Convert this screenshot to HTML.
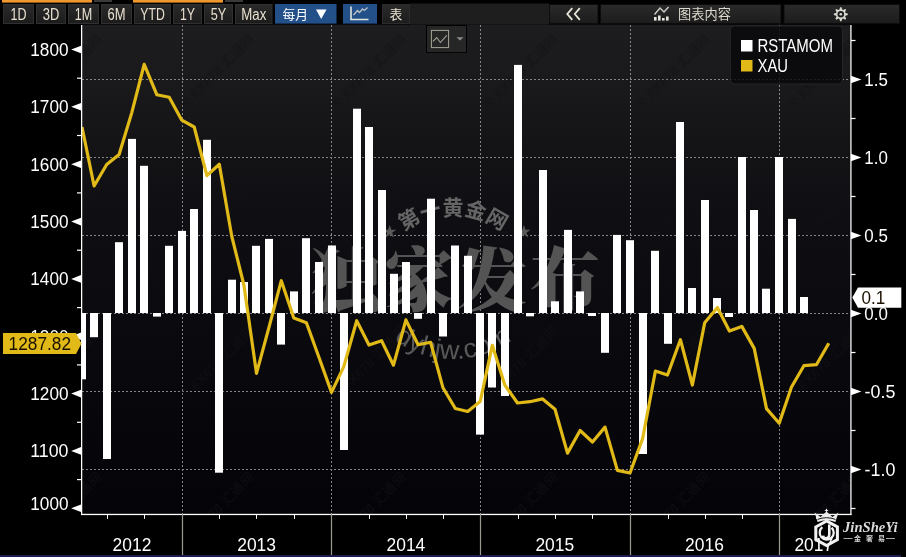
<!DOCTYPE html>
<html><head><meta charset="utf-8"><title>chart</title>
<style>
html,body{margin:0;padding:0;background:#000;}
body{width:906px;height:557px;overflow:hidden;}
svg{display:block}
text{font-family:"Liberation Sans","Noto Sans CJK SC",sans-serif;}
.ax{fill:#fff;font-size:17.8px;}
.btn{fill:#e9e0d0;font-size:15.6px;}
.wm1{font-family:"Liberation Serif","Noto Serif CJK SC",serif;font-weight:900;fill:#545454;}
.wm2{font-weight:700;fill:#656565;}
.wm3{fill:#585858;}
.fx text{font-weight:700;fill:#141418;fill-opacity:0.5;}
.logo{font-family:"Liberation Serif",serif;font-style:italic;font-weight:700;}
</style></head><body>
<svg width="906" height="557" viewBox="0 0 906 557">
<defs>
<linearGradient id="pg" x1="0" y1="0" x2="0" y2="1"><stop offset="0" stop-color="#1d1d20"/><stop offset="0.13" stop-color="#19191c"/><stop offset="0.245" stop-color="#141417"/><stop offset="0.36" stop-color="#101014"/><stop offset="0.59" stop-color="#0b0b0f"/><stop offset="0.77" stop-color="#08080c"/><stop offset="1" stop-color="#040408"/></linearGradient>
<linearGradient id="bg" x1="0" y1="0" x2="0" y2="1"><stop offset="0" stop-color="#2a2a2a"/><stop offset="1" stop-color="#1c1c1c"/></linearGradient>
<clipPath id="pc"><rect x="82" y="25" width="769" height="489"/></clipPath>
</defs>
<rect x="0" y="0" width="906" height="557" fill="#000"/>

<rect x="2" y="0" width="90" height="2.6" fill="#f0982e"/><rect x="94" y="0" width="18" height="2" fill="#3a3a3a"/>
<rect x="133" y="0" width="90" height="2.6" fill="#f0982e"/><rect x="225" y="0" width="18" height="2" fill="#3a3a3a"/>
<rect x="410" y="3.5" width="139" height="21" fill="#1e1e1e"/>
<rect x="3.5" y="4.5" width="30" height="19" fill="url(#bg)" stroke="#303030" stroke-width="1"/>
<text class="btn" x="18.5" y="19.9" text-anchor="middle" textLength="16" lengthAdjust="spacingAndGlyphs">1D</text>
<rect x="36.5" y="4.5" width="29" height="19" fill="url(#bg)" stroke="#303030" stroke-width="1"/>
<text class="btn" x="51.0" y="19.9" text-anchor="middle" textLength="16.5" lengthAdjust="spacingAndGlyphs">3D</text>
<rect x="68.5" y="4.5" width="30" height="19" fill="url(#bg)" stroke="#303030" stroke-width="1"/>
<text class="btn" x="83.5" y="19.9" text-anchor="middle" textLength="17.5" lengthAdjust="spacingAndGlyphs">1M</text>
<rect x="101.5" y="4.5" width="30" height="19" fill="url(#bg)" stroke="#303030" stroke-width="1"/>
<text class="btn" x="116.5" y="19.9" text-anchor="middle" textLength="18" lengthAdjust="spacingAndGlyphs">6M</text>
<rect x="134.5" y="4.5" width="36" height="19" fill="url(#bg)" stroke="#303030" stroke-width="1"/>
<text class="btn" x="152.5" y="19.9" text-anchor="middle" textLength="24.5" lengthAdjust="spacingAndGlyphs">YTD</text>
<rect x="173.5" y="4.5" width="28" height="19" fill="url(#bg)" stroke="#303030" stroke-width="1"/>
<text class="btn" x="187.5" y="19.9" text-anchor="middle" textLength="15" lengthAdjust="spacingAndGlyphs">1Y</text>
<rect x="204.5" y="4.5" width="28" height="19" fill="url(#bg)" stroke="#303030" stroke-width="1"/>
<text class="btn" x="218.5" y="19.9" text-anchor="middle" textLength="15.5" lengthAdjust="spacingAndGlyphs">5Y</text>
<rect x="235.5" y="4.5" width="36.5" height="19" fill="url(#bg)" stroke="#303030" stroke-width="1"/>
<text class="btn" x="253.75" y="19.9" text-anchor="middle" textLength="25" lengthAdjust="spacingAndGlyphs">Max</text>
<rect x="275" y="4" width="61.5" height="19.6" fill="#24508a"/>
<text x="282.5" y="18.6" font-size="12.8" fill="#fff">每月</text>
<path d="M316 9.5 L326.5 9.5 L321.2 19 Z" fill="#fff"/>
<rect x="343" y="4" width="34" height="19.6" fill="#24508a"/>
<path d="M351 6.5 V19.5 H368.5" fill="none" stroke="#dfe4dc" stroke-width="1.6"/><path d="M353.5 15 L357.5 10.5 L359.5 12.5 L362.5 9 L364.5 10.5 L367.5 7.5" fill="none" stroke="#b9c1c4" stroke-width="1.3"/>
<rect x="382.5" y="4.5" width="27" height="19" fill="url(#bg)" stroke="#2c2c2c"/>
<text x="396" y="18.6" font-size="12.8" fill="#e9e0d0" text-anchor="middle">表</text>
<rect x="549.5" y="4.5" width="48.5" height="19" fill="url(#bg)" stroke="#0c0c0c" stroke-width="1"/>
<rect x="600.5" y="4.5" width="180.5" height="19" fill="url(#bg)" stroke="#0c0c0c" stroke-width="1"/>
<rect x="784.0" y="4.5" width="115.5" height="19" fill="url(#bg)" stroke="#0c0c0c" stroke-width="1"/>
<path d="M572.3 8.2 L567.3 14 L572.3 19.8 M579.8 8.2 L574.8 14 L579.8 19.8" fill="none" stroke="#e8e6da" stroke-width="1.8"/>
<path d="M654.5 14.5 L660 8 L664 12 L668.5 7" fill="none" stroke="#cfcfc8" stroke-width="1.4"/>
<rect x="654" y="17" width="2.6" height="3.6" fill="#e6e6de"/><rect x="658" y="15.5" width="2.6" height="5.1" fill="#e6e6de"/><rect x="662" y="18" width="2.6" height="2.6" fill="#e6e6de"/><rect x="666" y="16.5" width="2.6" height="4.1" fill="#e6e6de"/>
<text x="678" y="18.5" font-size="13.2" fill="#dcd8cc" textLength="53" lengthAdjust="spacing">图表内容</text>
<path d="M847.77 13.61 L847.77 14.99 L845.49 15.72 L845.12 16.61 L846.21 18.74 L845.24 19.71 L843.11 18.62 L842.22 18.99 L841.49 21.27 L840.11 21.27 L839.38 18.99 L838.49 18.62 L836.36 19.71 L835.39 18.74 L836.48 16.61 L836.11 15.72 L833.83 14.99 L833.83 13.61 L836.11 12.88 L836.48 11.99 L835.39 9.86 L836.36 8.89 L838.49 9.98 L839.38 9.61 L840.11 7.33 L841.49 7.33 L842.22 9.61 L843.11 9.98 L845.24 8.89 L846.21 9.86 L845.12 11.99 L845.49 12.88 Z" fill="#d8d8d0"/>
<circle cx="840.8" cy="14.3" r="3.3" fill="#1e1e1e"/><circle cx="840.8" cy="14.3" r="1.3" fill="#d8d8d0"/>
<rect x="82" y="24.7" width="769" height="489.3" fill="url(#pg)"/>
<line x1="82" x2="850" y1="79.5" y2="79.5" stroke="#858585" stroke-width="1" stroke-dasharray="2 2"/>
<line x1="82" x2="850" y1="157.5" y2="157.5" stroke="#858585" stroke-width="1" stroke-dasharray="2 2"/>
<line x1="82" x2="850" y1="235.5" y2="235.5" stroke="#858585" stroke-width="1" stroke-dasharray="2 2"/>
<line x1="82" x2="850" y1="313.5" y2="313.5" stroke="#858585" stroke-width="1" stroke-dasharray="2 2"/>
<line x1="82" x2="850" y1="391.5" y2="391.5" stroke="#858585" stroke-width="1" stroke-dasharray="2 2"/>
<line x1="82" x2="850" y1="469.5" y2="469.5" stroke="#858585" stroke-width="1" stroke-dasharray="2 2"/>
<line x1="182.5" x2="182.5" y1="25" y2="514" stroke="#858585" stroke-width="1" stroke-dasharray="2 2"/>
<line x1="331.5" x2="331.5" y1="25" y2="514" stroke="#858585" stroke-width="1" stroke-dasharray="2 2"/>
<line x1="480.5" x2="480.5" y1="25" y2="514" stroke="#858585" stroke-width="1" stroke-dasharray="2 2"/>
<line x1="630.5" x2="630.5" y1="25" y2="514" stroke="#858585" stroke-width="1" stroke-dasharray="2 2"/>
<line x1="779.5" x2="779.5" y1="25" y2="514" stroke="#858585" stroke-width="1" stroke-dasharray="2 2"/>
<rect x="426" y="25" width="41" height="27.8" fill="#000"/><rect x="427" y="26" width="39" height="26" fill="#262626"/>
<rect x="431.4" y="30.4" width="17.2" height="17.2" fill="none" stroke="#a8a59a" stroke-width="1"/>
<path d="M433 41.3 L436.7 37.5 L440.4 42.5 L446.8 35.4" fill="none" stroke="#a8a59a" stroke-width="1.1"/>
<path d="M456.4 37.2 L463.5 37.2 L460 40.4 Z" fill="#8c8c8c"/>
<g class="fx" clip-path="url(#pc)">
<text x="34" y="109" transform="rotate(-45 34 109)" font-size="13.5">© FX678 汇通网</text>
<text x="186" y="109" transform="rotate(-45 186 109)" font-size="13.5">© FX678 汇通网</text>
<text x="338" y="109" transform="rotate(-45 338 109)" font-size="13.5">© FX678 汇通网</text>
<text x="490" y="109" transform="rotate(-45 490 109)" font-size="13.5">© FX678 汇通网</text>
<text x="642" y="109" transform="rotate(-45 642 109)" font-size="13.5">© FX678 汇通网</text>
<text x="794" y="109" transform="rotate(-45 794 109)" font-size="13.5">© FX678 汇通网</text>
<text x="946" y="109" transform="rotate(-45 946 109)" font-size="13.5">© FX678 汇通网</text>
<text x="34" y="255" transform="rotate(-45 34 255)" font-size="13.5">© FX678 汇通网</text>
<text x="186" y="255" transform="rotate(-45 186 255)" font-size="13.5">© FX678 汇通网</text>
<text x="338" y="255" transform="rotate(-45 338 255)" font-size="13.5">© FX678 汇通网</text>
<text x="490" y="255" transform="rotate(-45 490 255)" font-size="13.5">© FX678 汇通网</text>
<text x="642" y="255" transform="rotate(-45 642 255)" font-size="13.5">© FX678 汇通网</text>
<text x="794" y="255" transform="rotate(-45 794 255)" font-size="13.5">© FX678 汇通网</text>
<text x="946" y="255" transform="rotate(-45 946 255)" font-size="13.5">© FX678 汇通网</text>
<text x="34" y="401" transform="rotate(-45 34 401)" font-size="13.5">© FX678 汇通网</text>
<text x="186" y="401" transform="rotate(-45 186 401)" font-size="13.5">© FX678 汇通网</text>
<text x="338" y="401" transform="rotate(-45 338 401)" font-size="13.5">© FX678 汇通网</text>
<text x="490" y="401" transform="rotate(-45 490 401)" font-size="13.5">© FX678 汇通网</text>
<text x="642" y="401" transform="rotate(-45 642 401)" font-size="13.5">© FX678 汇通网</text>
<text x="794" y="401" transform="rotate(-45 794 401)" font-size="13.5">© FX678 汇通网</text>
<text x="946" y="401" transform="rotate(-45 946 401)" font-size="13.5">© FX678 汇通网</text>
<text x="34" y="547" transform="rotate(-45 34 547)" font-size="13.5">© FX678 汇通网</text>
<text x="186" y="547" transform="rotate(-45 186 547)" font-size="13.5">© FX678 汇通网</text>
<text x="338" y="547" transform="rotate(-45 338 547)" font-size="13.5">© FX678 汇通网</text>
<text x="490" y="547" transform="rotate(-45 490 547)" font-size="13.5">© FX678 汇通网</text>
<text x="642" y="547" transform="rotate(-45 642 547)" font-size="13.5">© FX678 汇通网</text>
<text x="794" y="547" transform="rotate(-45 794 547)" font-size="13.5">© FX678 汇通网</text>
<text x="946" y="547" transform="rotate(-45 946 547)" font-size="13.5">© FX678 汇通网</text>
</g>
<text class="wm1" x="311" y="305.5" font-size="70" textLength="289" lengthAdjust="spacing">独家发布</text>
<path id="arc" d="M391.7 243.6 A80 80 0 0 1 514.3 243.6" fill="none"/><path id="arc2" d="M388.1 335.4 A101 101 0 0 0 517.9 335.4" fill="none"/>
<text class="wm2" font-size="21"><textPath href="#arc" startOffset="50%" text-anchor="middle">第一黄金网</textPath></text>
<text class="wm3" x="389.7" y="236" font-size="14" text-anchor="middle">★</text><text class="wm3" x="524" y="236" font-size="14" text-anchor="middle">★</text>
<text class="wm3" font-size="27"><textPath href="#arc2" startOffset="50%" text-anchor="middle">dyhjw.com</textPath></text>
<g clip-path="url(#pc)" fill="#fff">
<rect x="78.0" y="313.0" width="8" height="66.3"/>
<rect x="90.0" y="313.0" width="8" height="24.2"/>
<rect x="103.0" y="313.0" width="8" height="146.0"/>
<rect x="115.0" y="242.2" width="8" height="70.8"/>
<rect x="128.0" y="138.9" width="8" height="174.1"/>
<rect x="140.0" y="165.8" width="8" height="147.2"/>
<rect x="153.0" y="313.0" width="8" height="3.6"/>
<rect x="165.0" y="245.8" width="8" height="67.2"/>
<rect x="178.0" y="230.9" width="8" height="82.1"/>
<rect x="190.0" y="209.0" width="8" height="104.0"/>
<rect x="203.0" y="139.8" width="8" height="173.2"/>
<rect x="215.0" y="313.0" width="8" height="159.7"/>
<rect x="228.0" y="279.7" width="8" height="33.3"/>
<rect x="240.0" y="282.0" width="8" height="31.0"/>
<rect x="252.0" y="245.8" width="8" height="67.2"/>
<rect x="265.0" y="238.9" width="8" height="74.1"/>
<rect x="277.0" y="313.0" width="8" height="31.6"/>
<rect x="290.0" y="291.4" width="8" height="21.6"/>
<rect x="302.0" y="238.2" width="8" height="74.8"/>
<rect x="315.0" y="262.0" width="8" height="51.0"/>
<rect x="328.0" y="245.5" width="8" height="67.5"/>
<rect x="340.0" y="313.0" width="8" height="137.0"/>
<rect x="353.0" y="108.7" width="8" height="204.3"/>
<rect x="365.0" y="127.0" width="8" height="186.0"/>
<rect x="378.0" y="190.0" width="8" height="123.0"/>
<rect x="390.0" y="273.8" width="8" height="39.2"/>
<rect x="402.0" y="262.0" width="8" height="51.0"/>
<rect x="414.0" y="313.0" width="8" height="5.8"/>
<rect x="427.0" y="198.7" width="8" height="114.3"/>
<rect x="439.0" y="313.0" width="8" height="23.5"/>
<rect x="451.0" y="245.5" width="8" height="67.5"/>
<rect x="464.0" y="255.8" width="8" height="57.2"/>
<rect x="476.0" y="313.0" width="8" height="121.6"/>
<rect x="488.0" y="313.0" width="8" height="74.5"/>
<rect x="501.0" y="313.0" width="8" height="83.0"/>
<rect x="514.0" y="64.9" width="8" height="248.1"/>
<rect x="526.0" y="313.0" width="8" height="3.3"/>
<rect x="539.0" y="170.0" width="8" height="143.0"/>
<rect x="551.0" y="301.3" width="8" height="11.7"/>
<rect x="564.0" y="229.9" width="8" height="83.1"/>
<rect x="576.0" y="291.4" width="8" height="21.6"/>
<rect x="588.0" y="313.0" width="8" height="3.0"/>
<rect x="601.0" y="313.0" width="8" height="39.8"/>
<rect x="613.0" y="234.9" width="8" height="78.1"/>
<rect x="626.0" y="240.2" width="8" height="72.8"/>
<rect x="639.0" y="313.0" width="8" height="141.0"/>
<rect x="651.0" y="250.8" width="8" height="62.2"/>
<rect x="664.0" y="313.0" width="8" height="30.8"/>
<rect x="676.0" y="122.0" width="8" height="191.0"/>
<rect x="688.0" y="288.0" width="8" height="25.0"/>
<rect x="701.0" y="200.0" width="8" height="113.0"/>
<rect x="713.0" y="298.0" width="8" height="15.0"/>
<rect x="725.0" y="313.0" width="8" height="4.0"/>
<rect x="738.0" y="157.0" width="8" height="156.0"/>
<rect x="750.0" y="210.0" width="8" height="103.0"/>
<rect x="762.0" y="288.7" width="8" height="24.3"/>
<rect x="775.0" y="157.0" width="8" height="156.0"/>
<rect x="788.0" y="218.9" width="8" height="94.1"/>
<rect x="800.0" y="297.0" width="8" height="16.0"/>
</g>
<polyline clip-path="url(#pc)" points="82.0,127.0 94.1,186.0 106.7,164.5 119.1,154.5 131.8,112.6 144.2,64.3 156.9,94.8 169.2,97.3 181.8,120.2 194.2,127.0 206.9,175.6 219.3,164.3 231.7,236.0 243.9,285.0 256.5,373.3 269.1,326.8 281.3,280.7 293.8,318.0 306.4,322.7 319.2,358.0 331.5,392.4 343.8,366.6 356.7,320.7 369.0,345.0 381.6,340.7 393.5,365.2 405.9,319.9 418.1,344.7 430.6,342.3 443.0,387.8 455.3,408.5 467.7,411.5 480.2,401.5 492.3,345.3 504.8,385.0 517.5,403.0 529.9,401.7 542.6,398.9 555.0,409.2 567.5,453.1 580.1,430.5 592.5,442.0 605.0,427.1 617.4,470.4 630.0,473.0 642.6,438.6 655.4,371.0 667.5,375.0 680.4,339.7 692.4,385.0 704.7,322.8 717.4,307.5 729.4,331.0 741.8,326.4 754.2,348.4 766.5,408.6 779.2,423.2 791.5,387.0 803.9,365.7 816.4,364.7 828.8,343.3" fill="none" stroke="#e2ba18" stroke-width="3.2" stroke-linejoin="round" stroke-linecap="butt"/>
<rect x="730.3" y="26" width="112.2" height="58" rx="4" fill="#08080b" fill-opacity="0.82" stroke="#26262a" stroke-width="1"/>
<rect x="741" y="40" width="11.5" height="11.5" fill="#fff"/><rect x="741" y="60" width="11.5" height="11.5" fill="#e2ba18"/>
<text x="757.5" y="52" font-size="18" fill="#fff" textLength="75.5" lengthAdjust="spacingAndGlyphs">RSTAMOM</text>
<text x="757.5" y="72" font-size="18" fill="#fff" textLength="30.5" lengthAdjust="spacingAndGlyphs">XAU</text>
<rect x="81" y="25" width="1.25" height="490" fill="#fff"/>
<rect x="850.3" y="25" width="1.25" height="490" fill="#fff"/>
<rect x="81" y="513.8" width="770.5" height="1.3" fill="#fff"/>
<path d="M81 45.7 L71.2 49.5 L81 53.3 Z" fill="#fff"/>
<text class="ax" x="30.3" y="55.9" textLength="38.2" lengthAdjust="spacingAndGlyphs">1800</text>
<rect x="77" y="77.6" width="4" height="1.2" fill="#fff"/>
<path d="M81 103.0 L71.2 106.8 L81 110.6 Z" fill="#fff"/>
<text class="ax" x="30.3" y="113.2" textLength="38.2" lengthAdjust="spacingAndGlyphs">1700</text>
<rect x="77" y="134.9" width="4" height="1.2" fill="#fff"/>
<path d="M81 160.4 L71.2 164.2 L81 168.0 Z" fill="#fff"/>
<text class="ax" x="30.3" y="170.6" textLength="38.2" lengthAdjust="spacingAndGlyphs">1600</text>
<rect x="77" y="192.3" width="4" height="1.2" fill="#fff"/>
<path d="M81 217.8 L71.2 221.6 L81 225.4 Z" fill="#fff"/>
<text class="ax" x="30.3" y="228.0" textLength="38.2" lengthAdjust="spacingAndGlyphs">1500</text>
<rect x="77" y="249.6" width="4" height="1.2" fill="#fff"/>
<path d="M81 275.1 L71.2 278.9 L81 282.7 Z" fill="#fff"/>
<text class="ax" x="30.3" y="285.3" textLength="38.2" lengthAdjust="spacingAndGlyphs">1400</text>
<rect x="77" y="307.0" width="4" height="1.2" fill="#fff"/>
<path d="M81 332.4 L71.2 336.2 L81 340.1 Z" fill="#fff"/>
<text class="ax" x="30.3" y="342.6" textLength="38.2" lengthAdjust="spacingAndGlyphs">1300</text>
<rect x="77" y="364.3" width="4" height="1.2" fill="#fff"/>
<path d="M81 389.8 L71.2 393.6 L81 397.4 Z" fill="#fff"/>
<text class="ax" x="30.3" y="400.0" textLength="38.2" lengthAdjust="spacingAndGlyphs">1200</text>
<rect x="77" y="421.7" width="4" height="1.2" fill="#fff"/>
<path d="M81 447.1 L71.2 450.9 L81 454.8 Z" fill="#fff"/>
<text class="ax" x="30.3" y="457.3" textLength="38.2" lengthAdjust="spacingAndGlyphs">1100</text>
<rect x="77" y="479.0" width="4" height="1.2" fill="#fff"/>
<path d="M81 504.5 L71.2 508.3 L81 512.1 Z" fill="#fff"/>
<text class="ax" x="30.3" y="509.9" textLength="38.2" lengthAdjust="spacingAndGlyphs">1000</text>
<path d="M3 333 H76 L81.5 343.4 L76 354 H3 Z" fill="#e2ba18"/>
<text x="8.6" y="350" font-size="17.6" fill="#1a1000" textLength="62.5" lengthAdjust="spacingAndGlyphs">1287.82</text>
<path d="M851 75.7 L861.4 79.5 L851 83.3 Z" fill="#fff"/>
<text class="ax" x="864.3" y="85.8" font-size="17.5" textLength="23.5" lengthAdjust="spacingAndGlyphs">1.5</text>
<path d="M851 153.7 L861.4 157.5 L851 161.3 Z" fill="#fff"/>
<text class="ax" x="864.3" y="163.8" font-size="17.5" textLength="23.5" lengthAdjust="spacingAndGlyphs">1.0</text>
<path d="M851 231.7 L861.4 235.5 L851 239.3 Z" fill="#fff"/>
<text class="ax" x="864.3" y="241.8" font-size="17.5" textLength="23.5" lengthAdjust="spacingAndGlyphs">0.5</text>
<path d="M851 309.7 L861.4 313.5 L851 317.3 Z" fill="#fff"/>
<text class="ax" x="864.3" y="319.8" font-size="17.5" textLength="23.5" lengthAdjust="spacingAndGlyphs">0.0</text>
<path d="M851 387.7 L861.4 391.5 L851 395.3 Z" fill="#fff"/>
<text class="ax" x="864.6" y="397.8" font-size="17.5" textLength="30.8" lengthAdjust="spacingAndGlyphs">-0.5</text>
<path d="M851 465.7 L861.4 469.5 L851 473.3 Z" fill="#fff"/>
<text class="ax" x="864.6" y="475.8" font-size="17.5" textLength="30.8" lengthAdjust="spacingAndGlyphs">-1.0</text>
<rect x="851" y="39.9" width="4.5" height="1.2" fill="#fff"/>
<rect x="851" y="117.9" width="4.5" height="1.2" fill="#fff"/>
<rect x="851" y="195.9" width="4.5" height="1.2" fill="#fff"/>
<rect x="851" y="273.9" width="4.5" height="1.2" fill="#fff"/>
<rect x="851" y="351.9" width="4.5" height="1.2" fill="#fff"/>
<rect x="851" y="429.9" width="4.5" height="1.2" fill="#fff"/>
<rect x="851" y="507.9" width="4.5" height="1.2" fill="#fff"/>
<path d="M852.3 297.5 L858 287.4 H901.3 V307.8 H858 Z" fill="#fff"/>
<text x="861.6" y="303.9" font-size="17.5" fill="#1a1000" textLength="23.8" lengthAdjust="spacingAndGlyphs">0.1</text>
<rect x="107" y="514" width="1" height="4.8" fill="#fff"/>
<rect x="144" y="514" width="1" height="4.8" fill="#fff"/>
<rect x="219" y="514" width="1" height="4.8" fill="#fff"/>
<rect x="256" y="514" width="1" height="4.8" fill="#fff"/>
<rect x="294" y="514" width="1" height="4.8" fill="#fff"/>
<rect x="369" y="514" width="1" height="4.8" fill="#fff"/>
<rect x="406" y="514" width="1" height="4.8" fill="#fff"/>
<rect x="443" y="514" width="1" height="4.8" fill="#fff"/>
<rect x="518" y="514" width="1" height="4.8" fill="#fff"/>
<rect x="555" y="514" width="1" height="4.8" fill="#fff"/>
<rect x="592" y="514" width="1" height="4.8" fill="#fff"/>
<rect x="668" y="514" width="1" height="4.8" fill="#fff"/>
<rect x="705" y="514" width="1" height="4.8" fill="#fff"/>
<rect x="742" y="514" width="1" height="4.8" fill="#fff"/>
<rect x="816" y="514" width="1" height="4.8" fill="#fff"/>
<rect x="181.9" y="514" width="1.2" height="41" fill="#9a9a90"/>
<rect x="330.9" y="514" width="1.2" height="41" fill="#9a9a90"/>
<rect x="479.9" y="514" width="1.2" height="41" fill="#9a9a90"/>
<rect x="629.9" y="514" width="1.2" height="41" fill="#9a9a90"/>
<rect x="778.9" y="514" width="1.2" height="41" fill="#9a9a90"/>
<text class="ax" x="112.6" y="551.3" textLength="38.8" lengthAdjust="spacingAndGlyphs">2012</text>
<text class="ax" x="237.2" y="551.3" textLength="38.8" lengthAdjust="spacingAndGlyphs">2013</text>
<text class="ax" x="386.5" y="551.3" textLength="38.8" lengthAdjust="spacingAndGlyphs">2014</text>
<text class="ax" x="535.4" y="551.3" textLength="38.8" lengthAdjust="spacingAndGlyphs">2015</text>
<text class="ax" x="685.1" y="551.3" textLength="38.8" lengthAdjust="spacingAndGlyphs">2016</text>
<text class="ax" x="794.4" y="551.3" textLength="38.8" lengthAdjust="spacingAndGlyphs">2017</text>
<path d="M815.8 527 L826.6 521 L837.4 527 V539.6 L826.6 545.6 L815.8 539.6 Z" fill="none" stroke="#f2f2f2" stroke-width="3"/>
<path d="M822.3 527.2 A7 7 0 1 0 831.6 527.6" fill="none" stroke="#f2f2f2" stroke-width="2.3"/>
<path d="M829.3 524.5 V534 Q829.3 538.2 826 538.2 Q823.4 538.2 823 535.6" fill="none" stroke="#f2f2f2" stroke-width="2.6"/>
<path d="M817.6 522 L814.6 512.6 L820.6 517 L826.5 511.5 L832.4 517 L838.4 512.6 L835.4 522 Q826.5 518.6 817.6 522 Z" fill="#ececec"/>
<path d="M826.5 508.8 V513 M824.8 510.4 H828.2" stroke="#ececec" stroke-width="1" fill="none"/>
<path d="M817.5 519.4 Q826.5 516 835.5 519.4" stroke="#000" stroke-width="0.9" fill="none"/>
<text x="843" y="532.2" class="logo" font-size="15" fill="#dcdcdc" textLength="54.5" lengthAdjust="spacingAndGlyphs">JinSheYi</text>
<text x="854" y="541.4" font-size="7" fill="#d4d4d4" textLength="31" lengthAdjust="spacing" font-weight="700">金奢易</text>
<rect x="843.5" y="538" width="9" height="0.9" fill="#bdbdbd"/><rect x="886" y="538" width="9" height="0.9" fill="#bdbdbd"/>
<rect x="0" y="555" width="901" height="2" fill="#1c1c50"/>
</svg></body></html>
